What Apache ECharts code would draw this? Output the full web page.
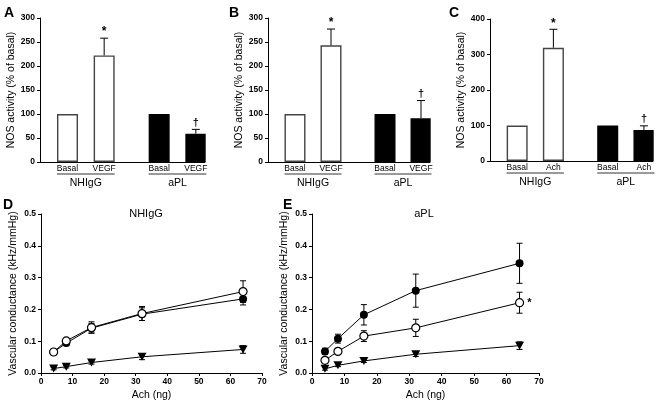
<!DOCTYPE html>
<html><head><meta charset="utf-8">
<script src="https://cdn.jsdelivr.net/npm/echarts@6/dist/echarts.min.js"></script>
<style>html,body{margin:0;padding:0;background:#fff}#c{width:665px;height:403px}</style>
</head><body><div id="c"></div>
<script>
// ---- data ----
const barLabelsAB = ['Basal', 'VEGF', 'Basal', 'VEGF'];
const barLabelsC = ['Basal', 'Ach', 'Basal', 'Ach'];
const groupNames = ['NHIgG', 'aPL'];
const meanA = [100, 222, 100, 59];
const errA = [0, 36, 0, 9];
const meanB = [100, 243, 100, 91];
const errB = [0, 34, 0, 37];
const meanC = [100, 319, 100, 87];
const errC = [0, 52, 0, 12];
const sigMarks = ['', '*', '', '\u2020'];
const achDose = [4, 8, 16, 32, 64];
const dOpen = [0.066, 0.101, 0.143, 0.187, 0.256];
const dOpenErr = [0.007, 0.008, 0.018, 0.022, 0.034];
const dFilled = [0.066, 0.094, 0.141, 0.185, 0.233];
const dFilledErr = [0.006, 0.008, 0.015, 0.02, 0.019];
const dTri = [0.014, 0.020, 0.033, 0.051, 0.074];
const dTriErr = [0.004, 0.004, 0.005, 0.009, 0.012];
const eFilled = [0.068, 0.108, 0.183, 0.259, 0.345];
const eFilledErr = [0.010, 0.014, 0.032, 0.052, 0.063];
const eOpen = [0.040, 0.068, 0.116, 0.142, 0.221];
const eOpenErr = [0.008, 0.007, 0.017, 0.027, 0.033];
const eTri = [0.013, 0.024, 0.038, 0.059, 0.086];
const eTriErr = [0.004, 0.004, 0.005, 0.007, 0.012];

// ---- layout ----
const FONT = 'Liberation Sans, Arial, sans-serif';
const SLOTS = [1, 3, 6, 8];
const NSLOT = 9;
const BARW = 21;
const grids = [
  {left: 40, top: 18, width: 165, height: 144},
  {left: 268, top: 18, width: 162, height: 144},
  {left: 490, top: 19, width: 163, height: 142},
  {left: 41, top: 214, width: 221, height: 159},
  {left: 312, top: 214, width: 227, height: 159}
];

function slotCats(labels) {
  const c = new Array(NSLOT).fill('');
  SLOTS.forEach((s, i) => { c[s] = labels[i] + '\u200b'.repeat(i); });
  return c;
}
function slotData(vals) {
  const d = new Array(NSLOT).fill(null);
  SLOTS.forEach((s, i) => {
    d[s] = {value: vals[i], itemStyle: {color: i < 2 ? '#fff' : '#000', borderColor: i < 2 ? '#444' : '#000', borderWidth: 1.4}};
  });
  return d;
}

const axisLine = {show: true, lineStyle: {color: '#000', width: 1}};
const tickLbl = {color: '#000', fontSize: 8.5, fontWeight: 'bold', fontFamily: FONT};

const xAxes = [], yAxes = [], series = [];
const barSets = [[barLabelsAB, meanA, errA, 300, 50], [barLabelsAB, meanB, errB, 300, 50], [barLabelsC, meanC, errC, 400, 100]];
barSets.forEach((bs, g) => {
  const [labels, mean, err, ymax, yint] = bs;
  xAxes.push({type: 'category', gridIndex: g, data: slotCats(labels), axisLine, axisTick: {show: false},
    axisLabel: {interval: 0, color: '#000', fontSize: 8.5, fontFamily: FONT, margin: 2, formatter: v => v.replace(/\u200b/g, '')}});
  yAxes.push({type: 'value', gridIndex: g, min: 0, max: ymax, interval: yint, splitLine: {show: false}, axisLine,
    axisTick: {show: true, length: 3, lineStyle: {color: '#000'}}, axisLabel: Object.assign({margin: 5}, tickLbl),
    name: 'NOS activity (% of basal)', nameLocation: 'middle', nameGap: 20,
    nameTextStyle: {color: '#000', fontSize: 10.5, fontFamily: FONT}});
  series.push({type: 'bar', xAxisIndex: g, yAxisIndex: g, data: slotData(mean), barWidth: BARW, animation: false, z: 2});
  series.push({type: 'custom', xAxisIndex: g, yAxisIndex: g, animation: false, z: 3,
    data: SLOTS.map((s, i) => [s, mean[i], err[i], i]),
    renderItem: (params, api) => {
      const x = api.value(0), y = api.value(1), e = api.value(2), k = api.value(3);
      const children = [];
      const base = api.coord([x, y]);
      const top = api.coord([x, y + e]);
      if (e > 0) {
        children.push({type: 'line', shape: {x1: base[0], y1: base[1], x2: top[0], y2: top[1]}, style: {stroke: '#000', lineWidth: 1}});
        children.push({type: 'line', shape: {x1: top[0] - 4, y1: top[1], x2: top[0] + 4, y2: top[1]}, style: {stroke: '#000', lineWidth: 1}});
      }
      if (sigMarks[k]) {
        children.push({type: 'text', style: {text: sigMarks[k], x: top[0], y: top[1] + (k === 1 ? 0 : -1), align: 'center', verticalAlign: 'bottom',
          font: 'bold ' + (k === 1 ? 12 : 11) + 'px ' + FONT, fill: '#000'}});
      }
      return {type: 'group', children};
    }});
});

const lineSets = [
  [[dTri, dTriErr, 'tri'], [dFilled, dFilledErr, 'filled'], [dOpen, dOpenErr, 'open']],
  [[eTri, eTriErr, 'tri'], [eOpen, eOpenErr, 'open'], [eFilled, eFilledErr, 'filled']]
];
lineSets.forEach((ls, j) => {
  const g = 3 + j;
  xAxes.push({type: 'value', gridIndex: g, min: 0, max: 70, interval: 10, splitLine: {show: false}, axisLine,
    axisTick: {show: true, length: 3, lineStyle: {color: '#000'}}, axisLabel: Object.assign({margin: 4}, tickLbl),
    name: 'Ach (ng)', nameLocation: 'middle', nameGap: 17, nameTextStyle: {color: '#000', fontSize: 10.5, fontFamily: FONT}});
  yAxes.push({type: 'value', gridIndex: g, min: 0, max: 0.5, interval: 0.1, splitLine: {show: false}, axisLine,
    axisTick: {show: true, length: 3, lineStyle: {color: '#000'}},
    axisLabel: Object.assign({margin: 5, formatter: v => v.toFixed(1)}, tickLbl),
    name: 'Vascular conductance (kHz/mmHg)', nameLocation: 'middle', nameGap: 22,
    nameTextStyle: {color: '#000', fontSize: 10.5, fontFamily: FONT}});
  ls.forEach(([vals, errs, kind]) => {
    series.push({type: 'custom', xAxisIndex: g, yAxisIndex: g, animation: false, z: 2,
      data: achDose.map((d, i) => [d, vals[i], errs[i]]),
      renderItem: (params, api) => {
        const x = api.value(0), y = api.value(1), e = api.value(2);
        const lo = api.coord([x, y - e]), hi = api.coord([x, y + e]);
        const st = {stroke: '#000', lineWidth: 1};
        return {type: 'group', children: [
          {type: 'line', shape: {x1: lo[0], y1: lo[1], x2: hi[0], y2: hi[1]}, style: st},
          {type: 'line', shape: {x1: lo[0] - 3, y1: lo[1], x2: lo[0] + 3, y2: lo[1]}, style: st},
          {type: 'line', shape: {x1: hi[0] - 3, y1: hi[1], x2: hi[0] + 3, y2: hi[1]}, style: st}
        ]};
      }});
    const data = achDose.map((d, i) => [d, vals[i]]);
    if (j === 1 && kind === 'open') {
      data[data.length - 1] = {value: data[data.length - 1], label: {show: true, position: 'right', distance: 3, formatter: '*', color: '#000', fontSize: 11, fontWeight: 'bold', fontFamily: FONT}};
    }
    series.push({type: 'line', xAxisIndex: g, yAxisIndex: g, data, animation: false, z: 4,
      symbol: kind === 'tri' ? 'triangle' : 'circle', symbolSize: kind === 'tri' ? [9, 8] : 8, symbolRotate: kind === 'tri' ? 180 : 0,
      showAllSymbol: true, lineStyle: {color: '#000', width: 1},
      itemStyle: {color: kind === 'open' ? '#fff' : '#000', borderColor: '#000', borderWidth: kind === 'open' ? 1.2 : 0},
      emphasis: {disabled: true}});
  });
});

const chart = echarts.init(document.getElementById('c'), null, {renderer: 'canvas'});
chart.setOption({
  backgroundColor: '#fff', animation: false,
  grid: grids, xAxis: xAxes, yAxis: yAxes, series
});

// annotations: panel letters, titles, group underlines and names
const gfx = [];
const letters = [['A', 4, 6], ['B', 229, 6], ['C', 449, 6], ['D', 3, 198], ['E', 283, 198]];
letters.forEach(([t, x, y]) => gfx.push({type: 'text', left: x, top: y, style: {text: t, font: 'bold 14px ' + FONT, fill: '#000'}}));
[[groupNames[0], 3, 105], [groupNames[1], 4, 112]].forEach(([t, g, dx]) => {
  const gr = grids[g];
  gfx.push({type: 'text', x: gr.left + dx, y: 214,
    style: {text: t, font: '11px ' + FONT, fill: '#000', align: 'center', verticalAlign: 'middle'}});
});
[0, 1, 2].forEach(g => {
  for (let k = 0; k < 2; k++) {
    const x1 = chart.convertToPixel({xAxisIndex: g}, SLOTS[2 * k]) - BARW / 2;
    const x2 = chart.convertToPixel({xAxisIndex: g}, SLOTS[2 * k + 1]) + BARW / 2;
    const yb = grids[g].top + grids[g].height;
    gfx.push({type: 'line', shape: {x1, y1: yb + 12, x2, y2: yb + 12}, style: {stroke: '#000', lineWidth: 0.8}});
    gfx.push({type: 'text', x: (x1 + x2) / 2, y: yb + 21, style: {text: groupNames[k], font: '10.5px ' + FONT, fill: '#000', align: 'center', verticalAlign: 'middle'}});
  }
});
chart.setOption({graphic: gfx});
</script></body></html>
